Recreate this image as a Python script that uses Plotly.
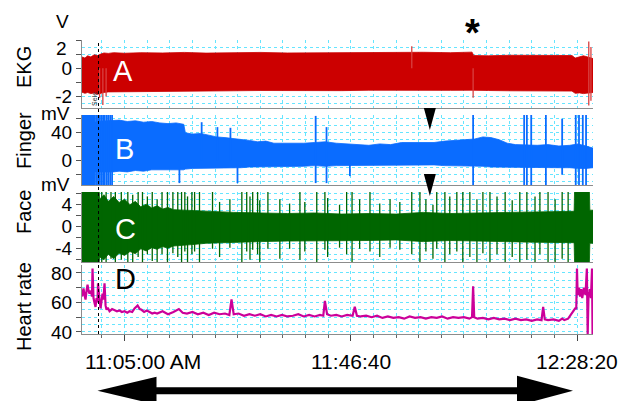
import numpy as np
import plotly.graph_objects as go

# ---------------- data (time = minutes after 11:00:00 AM) ----------------
t_start, t_end = -2.84, 91.28
tick_clock = ["11:05:00", "11:46:40", "12:28:20"]
tick_text = ["11:05:00 AM", "11:46:40", "12:28:20"]
grid_step_s = 250
marker_time = 0.2          # dotted selection line
event_time = 69.16         # asterisk (EKG change)
arrow_time = 61.23         # black triangles
span_start, span_end = 0.02, 87.6   # double arrow

panel_titles = ["EKG", "Finger", "Face", "Heart rate"]
panel_units = ["V", "mV", "mV"]
panel_letters = ["A", "B", "C", "D"]

# EKG envelope (V)
ekg_t  = [-2.84, -2.3, -1.8, -1.2, -0.6, 0.0, 0.6, 1.2, 2.0, 3.0, 5, 8, 12, 16, 20, 25, 30, 35, 40, 45,
          50, 55, 60, 65, 69.0, 69.3, 72, 76, 80, 84, 87.4, 88.0, 88.8, 89.5, 90.3, 91.28]
ekg_hi = [0.80, 0.72, 0.88, 0.80, 0.95, 0.90, 1.00, 1.08, 1.05, 1.10, 1.06, 1.10, 1.08, 1.12, 1.07, 1.10,
          1.12, 1.08, 1.10, 1.12, 1.09, 1.11, 1.13, 1.10, 1.14, 0.90, 0.88, 0.92, 0.90, 0.93, 0.90, 0.72,
          0.78, 0.88, 0.80, 0.68]
ekg_lo = [-1.70, -1.78, -1.72, -1.80, -1.75, -1.85, -1.80, -1.72, -1.68, -1.66, -1.64, -1.62, -1.63,
          -1.60, -1.62, -1.60, -1.58, -1.60, -1.57, -1.59, -1.56, -1.58, -1.55, -1.57, -1.56, -1.60,
          -1.58, -1.60, -1.57, -1.60, -1.62, -1.78, -1.75, -1.80, -1.75, -1.72]
ekg_spk_t  = [0.4, 1.0, 1.6, 57.9, 69.2, 90.5, 90.9]
ekg_spk_lo = [-2.1, -2.6, -2.0, 0.0, -2.1, -2.65, -2.3]
ekg_spk_hi = [0.0, 0.0, 0.0, 1.55, 0.0, 1.9, 1.5]

# Finger envelope (mV)
finger_t  = [-2.84, -0.35, -0.3, 2.9, 4.0, 5.5, 7.0, 8.5, 10.0, 11.5, 13.0, 14.5, 15.9, 16.2, 17.5, 19.0,
             20.5, 22.0, 23.5, 25.0, 26.5, 28.0, 29.5, 31.0, 32.5, 34.0, 36.0, 38.0, 40.0, 42.0, 44.0,
             46.0, 48.0, 50.0, 52.0, 54.0, 56.0, 58.0, 60.0, 62.0, 64.0, 66.0, 68.0, 69.5, 71.0, 72.5,
             74.0, 75.5, 77.0, 79.0, 81.0, 83.0, 85.0, 87.0, 88.5, 90.0, 91.28]
finger_hi = [70, 70, 56, 57, 58, 56, 57, 55, 56, 54, 53, 54, 52, 40, 38, 39, 36, 34, 33, 32, 31, 29, 27,
             28, 25, 25, 24, 25, 26, 27, 25, 24, 23, 22, 24, 23, 26, 26, 27, 26, 28, 29, 30, 31, 34, 33,
             30, 25, 23, 22, 22, 23, 21, 22, 24, 21, 18]
finger_lo = [-40, -40, -16, -16, -15, -16, -14, -15, -13, -14, -13, -13, -13, -12, -11, -11, -10, -10,
             -11, -10, -10, -9, -9, -9, -8, -8, -8, -8, -7, -8, -7, -7, -7, -6, -7, -6, -6, -7, -6, -6,
             -7, -7, -7, -8, -8, -9, -9, -9, -10, -10, -9, -10, -10, -10, -11, -11, -10]
finger_spk_t  = [-0.1, 0.15, 0.45, 0.75, 1.05, 1.35, 1.7, 2.0, 2.35, 2.7, 15.1, 19.2, 22.1, 24.5, 25.8,
                 40.2, 42.2, 46.5, 69.2, 78.6, 79.1, 79.9, 82.6, 85.6, 88.1, 88.7, 89.4, 90.0]
finger_spk_lo = [-40, -40, -40, -40, -40, -40, -40, -40, -40, -40, -32, 0, 0, 0, -32,
                 -32, -32, -22, -40, -40, -40, -40, -40, -20, -40, -40, -40, -40]
finger_spk_hi = [70, 70, 70, 70, 70, 70, 70, 70, 70, 70, 0, 55, 48, 47, 0,
                 64, 48, 0, 70, 70, 70, 70, 70, 60, 70, 70, 70, 70]

# Face envelope (mV)
face_t  = [-2.84, 0.3, 0.4, 1.2, 2.0, 3.0, 4.0, 5.0, 6.0, 7.0, 8.0, 9.0, 10.0, 11.0, 12.0, 13.0, 14.0,
           16, 18, 20, 25, 30, 35, 40, 45, 50, 55, 60, 65, 70, 75, 80, 85, 87.8, 87.9, 90.6, 90.7, 91.28]
face_hi = [7, 7, 5.0, 5.8, 4.6, 5.5, 4.4, 5.0, 4.0, 4.6, 3.6, 4.1, 3.4, 3.8, 3.2, 3.5, 3.1,
           3.0, 2.9, 2.8, 2.6, 2.5, 2.4, 2.5, 2.3, 2.4, 2.3, 2.6, 2.4, 2.5, 2.6, 2.7, 2.8, 2.8, 7, 7,
           3.0, 3.0]
face_lo = [-7, -7, -5.5, -6.0, -5.0, -5.8, -4.8, -5.2, -4.5, -4.9, -4.0, -4.4, -3.8, -4.1, -3.6,
           -3.9, -3.5, -3.4, -3.2, -3.0, -2.8, -2.7, -2.6, -2.6, -2.5, -2.5, -2.4, -2.7, -2.5, -2.6,
           -2.7, -2.8, -2.9, -2.9, -7, -7, -3.0, -3.0]
face_spk_t  = [0.8, 1.6, 2.5, 3.3, 4.4, 5.6, 6.5, 7.5, 8.3, 9.2, 10.1, 11.0, 11.9, 12.9, 13.9, 14.8,
               15.5, 16.1, 16.6, 17.4, 17.9, 18.8, 21.2, 22.5, 24.4, 26.6, 27.5, 28.1, 28.6, 29.5, 29.9,
               31.4, 33.6, 35.4, 37.3, 38.2, 40.4, 41.9, 42.4, 44.6, 45.9, 46.9, 48.3, 50.2, 52.0, 53.9,
               55.7, 57.9, 59.4, 60.5, 61.8, 62.5, 64.0, 64.9, 66.2, 67.3, 68.6, 69.9, 71.0, 72.3, 73.6,
               75.1, 76.4, 77.8, 79.1, 80.6, 81.5, 83.0, 84.3, 85.6, 86.7]
face_spk_hi = [7, 7, 7, 7, 7, 7, 5.8, 7, 7, 5.5, 7, 5.0, 7, 7, 7, 7, 7, 7, 5.5, 7, 7, 7, 7, 4.5, 5.0,
               7, 7, 5.5, 7, 7, 4.8, 7, 5.0, 4.2, 7, 4.5, 7, 7, 5.2, 4.0, 7, 7, 5.0, 7, 4.2, 5.0, 4.5,
               7, 7, 5.0, 4.0, 7, 7, 5.5, 7, 7, 7, 5.0, 7, 7, 5.5, 7, 4.8, 7, 7, 5.5, 7, 7, 5.0, 7, 7]
face_spk_lo = [-7, -7, -5.8, -7, -6.0, -7, -7, -5.5, -7, -5.0, -6.2, -7, -5.0, -7, -4.8, -5.5, -7,
               -4.5, -7, -5.0, -4.5, -7, -4.0, -5.5, -3.8, -7, -4.5, -6.0, -4.2, -5.0, -7, -4.0, -5.8,
               -4.0, -6.0, -4.5, -7, -4.2, -5.5, -3.8, -5.0, -7, -4.0, -4.5, -5.5, -3.8, -4.2, -5.0,
               -7, -4.5, -5.8, -4.0, -7, -5.0, -4.5, -7, -5.5, -7, -4.8, -7, -5.0, -7, -5.5, -7, -6.0,
               -7, -5.0, -7, -7, -5.8, -7]

# Heart rate (beats/min)
hr_t = [-2.84, -2.74, -2.56, -2.38, -2.19, -2.0, -1.82, -1.64, -1.45, -1.2, -1.0, -0.9, -0.8, -0.72,
        -0.55, -0.35, -0.16, 0.0, 0.11, 0.25, 0.39, 0.58, 0.75, 0.94, 1.1, 1.31, 1.5, 1.68, 1.9, 2.23,
        2.7, 3.16, 3.6, 4.08, 4.5, 5.0, 5.5, 5.92, 6.4, 6.84, 7.4, 7.8, 8.13, 8.6, 9.1, 9.61, 10.1,
        10.53, 11, 12, 13, 14, 15, 15.7, 16.5, 17.5, 18.5, 19.5, 20.5, 21.5, 22.5, 23.5, 24.3, 24.7,
        25.1, 26, 27, 28, 29, 30, 31, 32, 33, 34, 35, 36, 37, 38, 39, 40, 41, 41.6, 41.9, 42.3, 43, 44,
        45, 46, 47.0, 47.4, 47.8, 48.5, 49.5, 50.5, 51.5, 52.5, 53.5, 54.5, 55.5, 56.5, 57.5, 58.5,
        59.5, 60.5, 61.5, 62.5, 63.5, 64.5, 65.5, 66.5, 67.5, 68.5, 69.0, 69.2, 69.4, 70, 71, 72, 73,
        74, 75, 76, 77, 78, 79, 80, 81, 81.8, 82.1, 82.4, 83, 84, 85, 85.6, 86, 86.7, 87.2, 87.6, 88.0,
        88.2, 88.33, 88.45, 88.7, 88.9, 89.1, 89.3, 89.6, 89.9, 90.15, 90.3, 90.45, 90.7, 90.9, 91.1,
        91.2, 91.28]
hr_v = [64, 67, 69.5, 65, 62, 68, 72, 68, 66, 68, 64, 83, 66, 63,
        60, 57, 63, 60, 73, 64, 61.5, 56, 60, 66, 62, 73, 58, 55, 56.5, 54,
        55.5, 55, 54, 54.5, 53.5, 54, 53, 54, 53.5, 56, 58, 55.5, 55, 53.5, 54.5, 53.5, 52.5,
        53, 52.5, 54, 52, 53.5, 55.5, 53, 52.5, 53.5, 52, 53, 51.5, 53, 52, 52.5, 51.5, 62,
        52, 52.5, 51, 52, 51, 52, 50.5, 51.5, 50.5, 51.5, 50.5, 51, 52, 50.5, 51.5, 50.5, 51.5, 51, 61, 52, 51, 51.5,
        50.5, 51.5, 51, 57, 51, 50.5, 51, 50, 51, 49.5, 50.5, 49.5, 50, 49, 50.5, 49.5,
        50, 49, 50, 49.5, 50.5, 49, 50, 49.5, 50, 49, 50, 71, 50, 49, 49.5, 48.5, 49.5,
        48.5, 49, 48, 49, 48, 48.5, 47.5, 48.5, 48, 57, 48.5, 48, 48.5, 47.5, 49, 48, 49, 52, 54, 56,
        56, 83, 65, 70, 64, 69, 63, 70, 65, 83, 38, 64, 69, 63, 83,
        38, 66]

# ---------------- styling ----------------
FONT = "Liberation Sans, Arial, sans-serif"
RED, BLUE, GREEN, MAG = "#cc0000", "#0a6cff", "#006600", "#cc0099"
GRID = "#66e5ff"
W, H = 622, 401
ML, MR, MT, MB = 82, 29, 40, 67
PW, PH = W - ML - MR, H - MT - MB


def clock_min(s):
    h, m, sec = map(int, s.split(":"))
    return (h - 11) * 60 + m + sec / 60


tick_vals = [clock_min(s) for s in tick_clock]
step = grid_step_s / 60
grid_vals = [tick_vals[0] + k * step for k in range(-3, 30)
             if t_start <= tick_vals[0] + k * step <= t_end]


def py(px):  # pixel row -> paper fraction
    return (MT + PH - px) / PH


def pxx(px):
    return (px - ML) / PW


def band(t, hi, lo, color, n):
    return go.Scatter(x=list(t) + list(t)[::-1], y=list(hi) + list(lo)[::-1], fill="toself",
                      fillcolor=color, mode="lines", line=dict(color=color, width=0.8),
                      hoverinfo="skip", showlegend=False, xaxis="x" + n, yaxis="y" + n)


def spikes(t, lo, hi, color, width, n):
    xs, ys = [], []
    for a, l, h in zip(t, lo, hi):
        xs += [a, a, None]
        ys += [l, h, None]
    return go.Scatter(x=xs, y=ys, mode="lines", line=dict(color=color, width=width),
                      hoverinfo="skip", showlegend=False, xaxis="x" + n, yaxis="y" + n)


fig = go.Figure()
fig.add_trace(band(ekg_t, ekg_hi, ekg_lo, RED, ""))
fig.add_trace(spikes(ekg_spk_t, ekg_spk_lo, ekg_spk_hi, "#d84040", 1.3, ""))
fig.add_trace(band(finger_t, finger_hi, finger_lo, BLUE, "2"))
fig.add_trace(spikes(finger_spk_t, finger_spk_lo, finger_spk_hi, BLUE, 1.8, "2"))
fig.add_trace(band(face_t, face_hi, face_lo, GREEN, "3"))
fig.add_trace(spikes(face_spk_t, face_spk_lo, face_spk_hi, GREEN, 1.3, "3"))
fig.add_trace(go.Scatter(x=hr_t, y=hr_v, mode="lines", line=dict(color=MAG, width=2.2),
                         hoverinfo="skip", showlegend=False, xaxis="x4", yaxis="y4"))

domains = [[py(108), py(40)], [py(185), py(115)], [py(262), py(192)], [py(334), py(265)]]
ranges = [[-2.82, 2.0], [-34.7, 65.3], [-6.4, 6.3], [38.6, 85.4]]
ytickvals = [[-2, -1, 0, 1, 2], [-20, 0, 20, 40, 60], [-6, -4, -2, 0, 2, 4, 6], [40, 50, 60, 70, 80]]
yticktext = [["-2", "", "0", "", ""], ["", "0", "", "40", ""], ["", "-4", "", "0", "", "4", ""],
             ["40", "", "60", "", "80"]]
ygrid_step = [0.5, 10, 1, 5]

layout = dict(width=W, height=H, margin=dict(l=ML, r=MR, t=MT, b=MB), plot_bgcolor="white",
              paper_bgcolor="white", font=dict(family=FONT, color="black"), showlegend=False)

for i in range(4):
    n = "" if i == 0 else str(i + 1)
    lo_r, hi_r = ranges[i]
    g = ygrid_step[i]
    ygrid = [v for v in np.arange(np.ceil(lo_r / g) * g, hi_r + 1e-9, g)]
    layout["yaxis" + n] = dict(
        domain=domains[i], range=ranges[i], anchor="x" + n, tickmode="array",
        tickvals=ytickvals[i], ticktext=yticktext[i], ticks="outside", ticklen=5, tickcolor="#555",
        showline=True, linecolor="#8c8c8c", linewidth=1, showgrid=False, zeroline=False,
        minor=dict(tickmode="array", tickvals=ygrid, showgrid=True, gridcolor=GRID, griddash="dot",
                   gridwidth=1, ticks=""),
        tickfont=dict(family=FONT, size=19, color="black"), fixedrange=True)
    bottom = (i == 3)
    layout["xaxis" + n] = dict(
        range=[t_start, t_end], domain=[0, 1], anchor="y" + n, tickmode="array", tickvals=tick_vals,
        ticks="outside" if bottom else "", ticklen=6, tickcolor="#444", showticklabels=False,
        showline=True, linecolor="#8c8c8c", linewidth=1.2, showgrid=False, zeroline=False,
        minor=dict(tickmode="array", tickvals=grid_vals, showgrid=True, gridcolor=GRID,
                   griddash="dot", gridwidth=1, ticks="outside" if bottom else "", ticklen=3,
                   tickcolor="#666"),
        fixedrange=True, **({} if i == 0 else {"matches": "x"}))

ann = []
title_y = [67, 141, 212, 307]
for txt, yy in zip(panel_titles, title_y):
    ann.append(dict(text=txt, xref="paper", yref="paper", x=pxx(24), y=py(yy), textangle=-90,
                    showarrow=False, font=dict(size=20, family=FONT), xanchor="center",
                    yanchor="middle"))
unit_pos = [(62, 21), (55, 113), (55, 184)]
for txt, (xx, yy) in zip(panel_units, unit_pos):
    ann.append(dict(text=txt, xref="paper", yref="paper", x=pxx(xx), y=py(yy), showarrow=False,
                    font=dict(size=19, family=FONT), xanchor="center", yanchor="middle",
                    borderpad=0))
letter_pos = [(123, 71, "white"), (124, 149, "white"), (125, 229, "white"), (125, 279, "black")]
for txt, (xx, yy, c) in zip(panel_letters, letter_pos):
    ann.append(dict(text=txt, xref="paper", yref="paper", x=pxx(xx), y=py(yy), showarrow=False,
                    font=dict(size=29, family=FONT, color=c), xanchor="center", yanchor="middle"))
# shifted top label of EKG axis
ann.append(dict(text="2", xref="paper", yref="paper", x=pxx(69), y=py(48), showarrow=False,
                font=dict(size=19, family=FONT), xanchor="right", yanchor="middle"))
# time labels
for k, (v, txt) in enumerate(zip(tick_vals, tick_text)):
    if k == 0:
        ann.append(dict(text=txt, xref="x4", yref="paper", x=v, y=py(361), showarrow=False,
                        font=dict(size=21, family=FONT), xanchor="left", xshift=-42,
                        yanchor="middle"))
    else:
        ann.append(dict(text=txt, xref="x4", yref="paper", x=v, y=py(361), showarrow=False,
                        font=dict(size=21, family=FONT), xanchor="center", yanchor="middle"))
# asterisk
ann.append(dict(text="<b>*</b>", xref="x", yref="paper", x=event_time, y=py(33), showarrow=False,
                font=dict(size=38, family=FONT), xanchor="center", yanchor="middle"))
# small selection label
ann.append(dict(text="Sele", xref="x", yref="y", x=marker_time, xshift=-4, y=-2.21, textangle=-90,
                showarrow=False, font=dict(size=7, family=FONT, color="#333"), xanchor="center",
                yanchor="middle"))
layout["annotations"] = ann

ppm = PW / (t_end - t_start)
head_l, head_r = 59, 56
shapes = [
    dict(type="line", xref="x", yref="paper", x0=marker_time, x1=marker_time, y0=0, y1=1,
         line=dict(color="black", width=1, dash="dot")),
    dict(type="line", xref="x", yref="paper", x0=span_start + (head_l - 2) / ppm,
         x1=span_end - (head_r - 2) / ppm, y0=py(390.7), y1=py(390.7),
         line=dict(color="black", width=7)),
    dict(type="path", xref="x", yref="paper", xsizemode="pixel", ysizemode="pixel",
         xanchor=span_start, yanchor=py(390.7), path=f"M0,0 L{head_l},14 L{head_l},-14 Z",
         fillcolor="black", line=dict(width=0)),
    dict(type="path", xref="x", yref="paper", xsizemode="pixel", ysizemode="pixel",
         xanchor=span_end, yanchor=py(390.7), path=f"M0,0 L-{head_r},15 L-{head_r},-15 Z",
         fillcolor="black", line=dict(width=0)),
]
for top in (108, 174):
    shapes.append(dict(type="path", xref="x", yref="paper", xsizemode="pixel", ysizemode="pixel",
                       xanchor=arrow_time, yanchor=py(top), path="M-6,0 L6,0 L0,-22 Z",
                       fillcolor="black", line=dict(width=0)))
layout["shapes"] = shapes

fig.update_layout(**layout)
fig.write_html("out.html")
